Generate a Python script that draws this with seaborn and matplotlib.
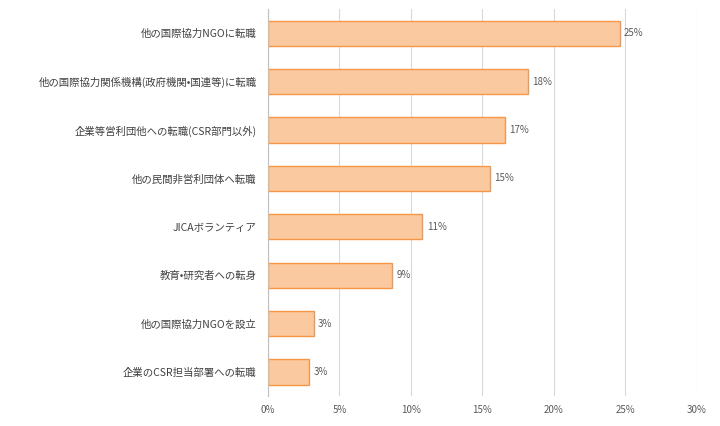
import matplotlib
matplotlib.use("Agg")
import matplotlib.pyplot as plt
import seaborn as sns
import pandas as pd

categories = [
    "他の国際協力NGOに転職",
    "他の国際協力関係機構(政府機関•国連等)に転職",
    "企業等営利団他への転職(CSR部門以外)",
    "他の民間非営利団体へ転職",
    "JICAボランティア",
    "教育•研究者への転身",
    "他の国際協力NGOを設立",
    "企業のCSR担当部署への転職",
]
values = [24.6, 18.2, 16.6, 15.5, 10.8, 8.7, 3.2, 2.9]
labels = ["25%", "18%", "17%", "15%", "11%", "9%", "3%", "3%"]

df = pd.DataFrame({"cat": categories, "val": values})

plt.rcParams["font.family"] = "Noto Sans CJK JP"
fig, ax = plt.subplots(figsize=(7.2, 4.26), dpi=100)
sns.barplot(data=df, y="cat", x="val", orient="h", color="#FBC9A0",
            edgecolor="#F79646", linewidth=1, width=0.52, ax=ax, saturation=1)

for i, (v, t) in enumerate(zip(values, labels)):
    ax.text(v + 0.3, i, t, va="center", ha="left", fontsize=7, color="#595959")

ax.set_xlim(0, 30)
ax.set_xticks(range(0, 31, 5))
ax.set_xticklabels([f"{x}%" for x in range(0, 31, 5)], fontsize=7, color="#595959")
ax.tick_params(axis="y", labelsize=7.5, colors="#404040", length=0, pad=8)
ax.tick_params(axis="x", length=0, pad=6)
ax.xaxis.grid(True, color="#D9D9D9", linewidth=0.8)
ax.set_axisbelow(True)
ax.set_xlabel("")
ax.set_ylabel("")
for s in ["top", "right", "bottom"]:
    ax.spines[s].set_visible(False)
ax.spines["left"].set_color("#BFBFBF")

fig.subplots_adjust(left=0.372, right=0.968, top=0.979, bottom=0.070)
fig.savefig("out.png", dpi=100)
